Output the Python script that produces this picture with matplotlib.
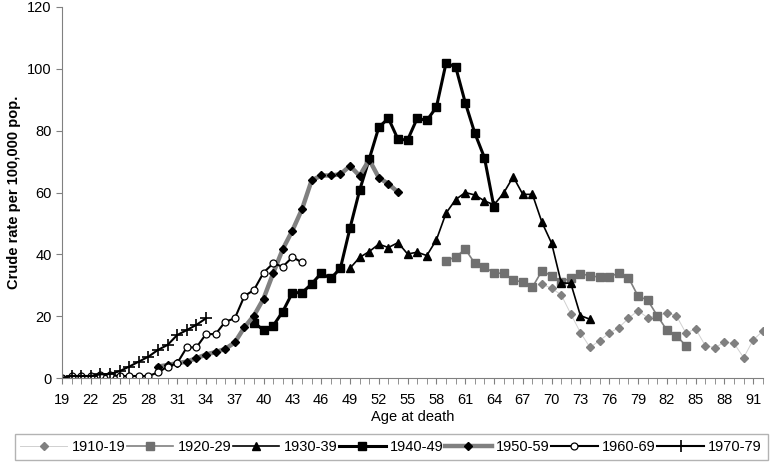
import matplotlib.pyplot as plt
import numpy as np

plt.rcParams['font.family'] = ['Liberation Sans', 'DejaVu Sans']

# crude rate per 100,000 by age at death, one list per birth cohort
r1910 = [30.4, 29.0, 26.9, 20.7, 14.7, 9.9, 12.1, 14.5, 16.3, 19.3, 21.8, 19.5,
         20.1, 21.1, 20.1, 14.5, 15.9, 10.5, 9.8, 11.6, 11.2, 6.6, 12.3, 15.2]
r1920 = [38.0, 39.1, 41.7, 37.1, 36.0, 33.9, 33.9, 31.7, 31.0, 29.4, 34.7, 33.0, 31.2,
         32.3, 33.7, 33.1, 32.6, 32.8, 33.9, 32.5, 26.5, 25.2, 20.2, 15.5, 13.7, 10.4]
r1930 = [35.5, 39.0, 40.9, 43.3, 42.2, 43.8, 40.1, 40.7, 39.6, 44.7, 53.3, 57.7, 60.0,
         59.2, 57.3, 56.0, 59.8, 65.1, 59.4, 59.4, 50.3, 43.6, 30.8, 30.6, 20.2, 19.0]
r1940 = [17.9, 15.5, 16.9, 21.5, 27.6, 27.6, 30.4, 33.9, 32.2, 35.5, 48.5, 60.7, 70.8,
         81.1, 84.0, 77.2, 77.0, 84.0, 83.3, 87.6, 101.8, 100.7, 89.1, 79.2, 71.3, 55.2]
r1950 = [3.7, 4.2, 4.8, 5.3, 6.4, 7.6, 8.4, 9.4, 11.5, 16.4, 20.2, 25.7, 33.9,
         41.7, 47.7, 54.6, 63.9, 65.5, 65.5, 65.9, 68.6, 65.4, 70.6, 64.8, 62.8, 60.1]
r1960 = [0.1, 0.65, 0.65, 0.65, 1.0, 0.9, 0.65, 0.65, 0.65, 0.65, 1.8, 3.7, 4.8,
         9.9, 9.9, 14.2, 14.2, 18.2, 19.3, 26.5, 28.5, 34.1, 37.1, 36.0, 39.1, 37.4]
r1970 = [0.1, 0.65, 0.65, 0.65, 1.2, 1.3, 2.2, 3.7, 5.3, 6.9, 9.1, 10.7, 13.9,
         15.5, 17.2, 19.3]

# first age of each cohort
start = {'1910-19': 69, '1920-29': 59, '1930-39': 49, '1940-49': 39,
         '1950-59': 29, '1960-69': 19, '1970-79': 19}
rates = {'1910-19': r1910, '1920-29': r1920, '1930-39': r1930, '1940-49': r1940,
         '1950-59': r1950, '1960-69': r1960, '1970-79': r1970}

styles = {
    '1910-19': dict(color='#d0d0d0', lw=0.7, marker='D', ms=4.5, mfc='#808080', mec='#808080'),
    '1920-29': dict(color='#808080', lw=1.2, marker='s', ms=5.5, mfc='#707070', mec='#707070'),
    '1930-39': dict(color='black', lw=1.2, marker='^', ms=5.5, mfc='black', mec='black'),
    '1940-49': dict(color='black', lw=2.2, marker='s', ms=5.5, mfc='black', mec='black'),
    '1950-59': dict(color='#808080', lw=3.2, marker='D', ms=4, mfc='black', mec='black'),
    '1960-69': dict(color='black', lw=1.5, marker='o', ms=5, mfc='white', mec='black', mew=0.9),
    '1970-79': dict(color='black', lw=1.5, marker='+', ms=9, mfc='black', mec='black', mew=1.2),
}

fig = plt.figure(figsize=(7.71, 4.66), dpi=100)
ax = fig.add_axes([0.0804, 0.1888, 0.909, 0.7962])

for name in rates:
    vals = rates[name]
    ages = np.arange(start[name], start[name] + len(vals))
    ax.plot(ages, vals, label=name, **styles[name])

ax.set_xlim(19, 92)
ax.set_ylim(0, 120)
ax.set_yticks(range(0, 121, 20))
ax.set_xticks(range(19, 92, 3))
ax.set_xticks(range(19, 93), minor=True)
ax.tick_params(axis='x', which='both', length=4, color='#808080', labelsize=10.5, pad=7)
ax.tick_params(axis='y', length=4, color='#808080', labelsize=10.5)

for s in ['top', 'right']:
    ax.spines[s].set_visible(False)
for s in ['left', 'bottom']:
    ax.spines[s].set_color('#808080')

ax.set_xlabel('Age at death', fontsize=10.5, labelpad=2)
ax.set_ylabel('Crude rate per 100,000 pop.', fontsize=10.5, fontweight='bold')

fig.legend(loc='lower left', bbox_to_anchor=(0.019, 0.013, 0.977, 0.06), mode='expand',
           ncol=7, frameon=True, fancybox=False, edgecolor='#a0a0a0', fontsize=10.5,
           handlelength=3.2, handletextpad=0.3, columnspacing=1.0, borderaxespad=0)

fig.savefig('out.png', dpi=100)
